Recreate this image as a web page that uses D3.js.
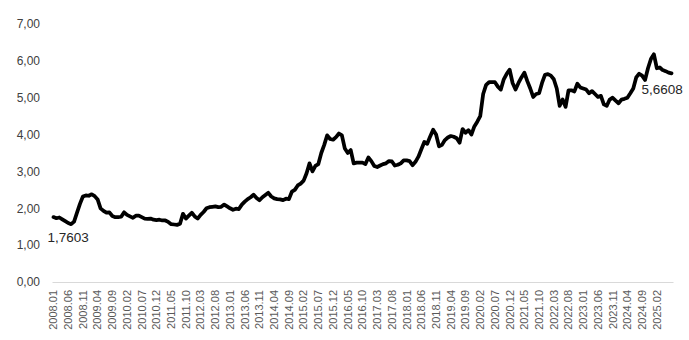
<!DOCTYPE html>
<html>
<head>
<meta charset="utf-8">
<script src="https://cdn.jsdelivr.net/npm/d3@7"></script>
<style>
  body { margin: 0; background: #fff; }
  text { font-family: "Liberation Sans", Arial, sans-serif; }
</style>
</head>
<body>
<div id="chart"></div>
<script>
// monthly values, 2008.01 .. 2025.07
let startYear = 2008;
let values = [
  1.7603, 1.73, 1.75, 1.70, 1.65, 1.60, 1.57, 1.64, 1.88, 2.12, 2.32, 2.35,
  2.34, 2.38, 2.33, 2.24, 2.00, 1.93, 1.88, 1.89, 1.79, 1.76, 1.76, 1.77,
  1.89, 1.82, 1.78, 1.74, 1.80, 1.80, 1.76, 1.72, 1.71, 1.72, 1.69, 1.68,
  1.69, 1.67, 1.67, 1.63, 1.57, 1.56, 1.55, 1.58, 1.85, 1.72, 1.80, 1.88,
  1.78, 1.72, 1.82, 1.90, 2.00, 2.03, 2.04, 2.05, 2.03, 2.04, 2.10, 2.05,
  2.00, 1.96, 1.99, 1.98, 2.10, 2.18, 2.25, 2.30, 2.37, 2.28, 2.22, 2.30,
  2.36, 2.42, 2.32, 2.27, 2.25, 2.24, 2.22, 2.26, 2.25, 2.45, 2.50, 2.62,
  2.67, 2.75, 2.95, 3.22, 3.00, 3.15, 3.20, 3.50, 3.72, 3.98, 3.88, 3.86,
  3.93, 4.03, 3.98, 3.62, 3.50, 3.58, 3.22, 3.24, 3.24, 3.24, 3.20, 3.38,
  3.28, 3.15, 3.12, 3.16, 3.20, 3.22, 3.28, 3.27, 3.16, 3.18, 3.22, 3.30,
  3.30, 3.28, 3.17, 3.26, 3.40, 3.60, 3.80, 3.75, 3.95, 4.13, 4.00, 3.68,
  3.72, 3.85, 3.92, 3.96, 3.94, 3.90, 3.78, 4.15, 4.05, 4.12, 4.00, 4.22,
  4.35, 4.50, 5.10, 5.35, 5.42, 5.42, 5.42, 5.30, 5.22, 5.50, 5.65, 5.76,
  5.40, 5.22, 5.40, 5.55, 5.68, 5.45, 5.25, 5.02, 5.10, 5.12, 5.40, 5.62,
  5.64, 5.60, 5.50, 5.25, 4.78, 4.95, 4.75, 5.20, 5.20, 5.17, 5.38, 5.28,
  5.25, 5.22, 5.12, 5.18, 5.10, 5.02, 5.05, 4.82, 4.78, 4.95, 5.00, 4.92,
  4.85, 4.95, 4.97, 5.00, 5.12, 5.25, 5.55, 5.65, 5.60, 5.48, 5.80, 6.05,
  6.18, 5.80, 5.82, 5.75, 5.72, 5.68, 5.6608
];
let yTicks = [0, 1, 2, 3, 4, 5, 6, 7];
let labelEvery = 5;
let lastLabel = "2025.02";

let months = values.map((v, i) => {
  let y = startYear + Math.floor(i / 12);
  let m = (i % 12) + 1;
  return y + "." + (m < 10 ? "0" + m : m);
});
let data = months.map((m, i) => ({ month: m, value: values[i] }));

let svgWidth = 689;
let svgHeight = 340;
let margin = { top: 24, right: 16, bottom: 58, left: 52 };
let width = svgWidth - margin.left - margin.right;
let height = svgHeight - margin.top - margin.bottom;

let svg = d3.select("#chart")
  .append("svg")
  .attr("width", svgWidth)
  .attr("height", svgHeight);

let chartGroup = svg.append("g")
  .attr("transform", `translate(${margin.left}, ${margin.top})`);

let xScale = d3.scaleBand()
  .domain(months)
  .range([0, width]);

let yScale = d3.scaleLinear()
  .domain([0, 7])
  .range([height, 0]);

let fmt = d => d3.format(".2f")(d).replace(".", ",");
let xc = d => xScale(d.month) + xScale.bandwidth() / 2;

// x axis
let lastIdx = months.indexOf(lastLabel);
let xAxis = d3.axisBottom(xScale)
  .tickValues(months.filter((m, i) => i % labelEvery === 0 && i <= lastIdx))
  .tickSize(0)
  .tickSizeOuter(0);

let xg = chartGroup.append("g")
  .attr("transform", `translate(0, ${height})`)
  .call(xAxis);
xg.select(".domain").attr("stroke", "#d9d9d9").attr("stroke-width", 1);
xg.selectAll("text")
  .attr("transform", "rotate(-90)")
  .attr("text-anchor", "end")
  .attr("x", -8)
  .attr("y", 0)
  .attr("dy", "0.35em")
  .attr("fill", "#595959")
  .style("font-size", "11px");

// y axis
let yAxis = d3.axisLeft(yScale)
  .tickValues(yTicks)
  .tickFormat(fmt)
  .tickSize(0)
  .tickPadding(12);

let yg = chartGroup.append("g").call(yAxis);
yg.select(".domain").remove();
yg.selectAll("text")
  .attr("fill", "#404040")
  .style("font-size", "12px");

// line
let line = d3.line()
  .x(d => xc(d))
  .y(d => yScale(d.value));

chartGroup.append("path")
  .datum(data)
  .attr("fill", "none")
  .attr("stroke", "#000")
  .attr("stroke-width", 3.75)
  .attr("stroke-linejoin", "round")
  .attr("stroke-linecap", "round")
  .attr("d", line);

// first / last labels
let first = data[0];
let last = data[data.length - 1];
let fmt4 = d => d3.format(".4f")(d).replace(".", ",");

chartGroup.append("text")
  .attr("x", xc(first) - 6)
  .attr("y", yScale(first.value) + 25)
  .attr("fill", "#262626")
  .style("font-size", "13.5px")
  .text(fmt4(first.value));

chartGroup.append("text")
  .attr("x", xc(last) - 30)
  .attr("y", yScale(last.value) + 21)
  .attr("fill", "#262626")
  .style("font-size", "13.5px")
  .text(fmt4(last.value));
</script>
</body>
</html>
